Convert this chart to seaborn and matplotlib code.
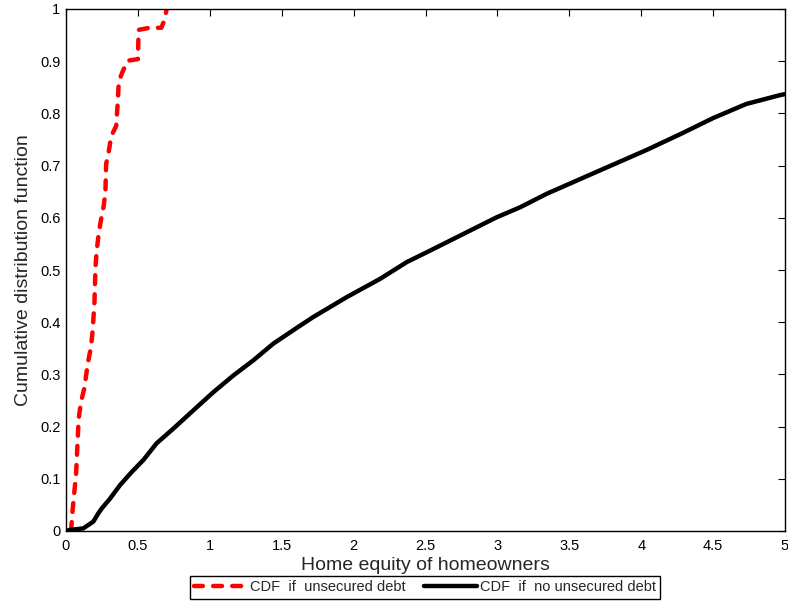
import matplotlib
matplotlib.use("Agg")
import matplotlib.pyplot as plt
import seaborn as sns
import pandas as pd

# Data
red_x = [0.035, 0.047, 0.07, 0.088, 0.105, 0.128, 0.151, 0.174, 0.186, 0.198, 0.205,
         0.214, 0.228, 0.244, 0.263, 0.274, 0.279, 0.295, 0.314, 0.349, 0.36, 0.367,
         0.395, 0.43, 0.50, 0.505, 0.58, 0.663, 0.686, 0.70]
red_y = [0.0, 0.043, 0.109, 0.215, 0.248, 0.274, 0.32, 0.353, 0.386, 0.439, 0.505,
         0.538, 0.571, 0.597, 0.624, 0.65, 0.703, 0.723, 0.756, 0.776, 0.822, 0.861,
         0.881, 0.901, 0.904, 0.96, 0.964, 0.964, 0.98, 1.0]

black_x = [0.0, 0.028, 0.12, 0.19, 0.225, 0.248, 0.306, 0.376, 0.457, 0.538, 0.63,
           0.746, 0.885, 1.025, 1.164, 1.303, 1.442, 1.615, 1.72, 1.952, 2.184, 2.369,
           2.531, 2.763, 2.995, 3.157, 3.343, 3.574, 3.806, 4.038, 4.27, 4.50, 4.73,
           4.965, 5.0]
black_y = [0.0, 0.002, 0.005, 0.018, 0.034, 0.043, 0.062, 0.088, 0.113, 0.136, 0.168,
           0.196, 0.231, 0.266, 0.298, 0.327, 0.359, 0.391, 0.41, 0.448, 0.483, 0.515,
           0.537, 0.569, 0.601, 0.62, 0.646, 0.674, 0.702, 0.73, 0.76, 0.791, 0.818,
           0.835, 0.837]

x_ticks = [0, 0.5, 1, 1.5, 2, 2.5, 3, 3.5, 4, 4.5, 5]
x_tick_labels = ["0", "0.5", "1", "1.5", "2", "2.5", "3", "3.5", "4", "4.5", "5"]
y_ticks = [0, 0.1, 0.2, 0.3, 0.4, 0.5, 0.6, 0.7, 0.8, 0.9, 1]
y_tick_labels = ["0", "0.1", "0.2", "0.3", "0.4", "0.5", "0.6", "0.7", "0.8", "0.9", "1"]

label_red = "CDF  if  unsecured debt"
label_black = "CDF  if  no unsecured debt"

sns.set_style("white")
plt.rcParams["font.family"] = ["Liberation Sans", "DejaVu Sans"]

fig = plt.figure(figsize=(7.88, 6.09), dpi=100)
ax = fig.add_axes([66 / 788, 1 - 531 / 609, (785 - 66) / 788, (531 - 9) / 609])

df_red = pd.DataFrame({"x": red_x, "y": red_y})
df_black = pd.DataFrame({"x": black_x, "y": black_y})

sns.lineplot(data=df_red, x="x", y="y", ax=ax, color="#ff0000", linewidth=3.2,
             linestyle=(0, (2.0, 2.3)), dash_capstyle="round",
             label=label_red, sort=False, estimator=None)
sns.lineplot(data=df_black, x="x", y="y", ax=ax, color="black", linewidth=3.2,
             solid_capstyle="round", solid_joinstyle="round",
             label=label_black, sort=False, estimator=None)

ax.set_xlim(0, 5)
ax.set_ylim(0, 1)
ax.set_xticks(x_ticks)
ax.set_xticklabels(x_tick_labels)
ax.set_yticks(y_ticks)
ax.set_yticklabels(y_tick_labels)
ax.tick_params(direction="in", length=5, width=0.8, top=True, right=True,
               labelsize=10.5, colors="black", pad=4)
ax.tick_params(axis="x", pad=6)
for s in ax.spines.values():
    s.set_visible(True)
    s.set_color("black")
    s.set_linewidth(1.0)

ax.set_xlabel("Home equity of homeowners", fontsize=14, labelpad=3)
ax.set_ylabel("Cumulative distribution function", fontsize=14, labelpad=6)

ax.get_legend().remove()
handles, labels = ax.get_legend_handles_labels()
leg = fig.legend(handles, labels, loc="lower center", ncol=2,
                 bbox_to_anchor=(425 / 788, 3 / 609), frameon=True, fancybox=False,
                 edgecolor="black", framealpha=1, fontsize=10.5, handlelength=3.6,
                 columnspacing=1.3, borderpad=0.3, handletextpad=0.2)
leg.get_frame().set_linewidth(1.0)

fig.savefig("out.png", dpi=100, facecolor="white")
